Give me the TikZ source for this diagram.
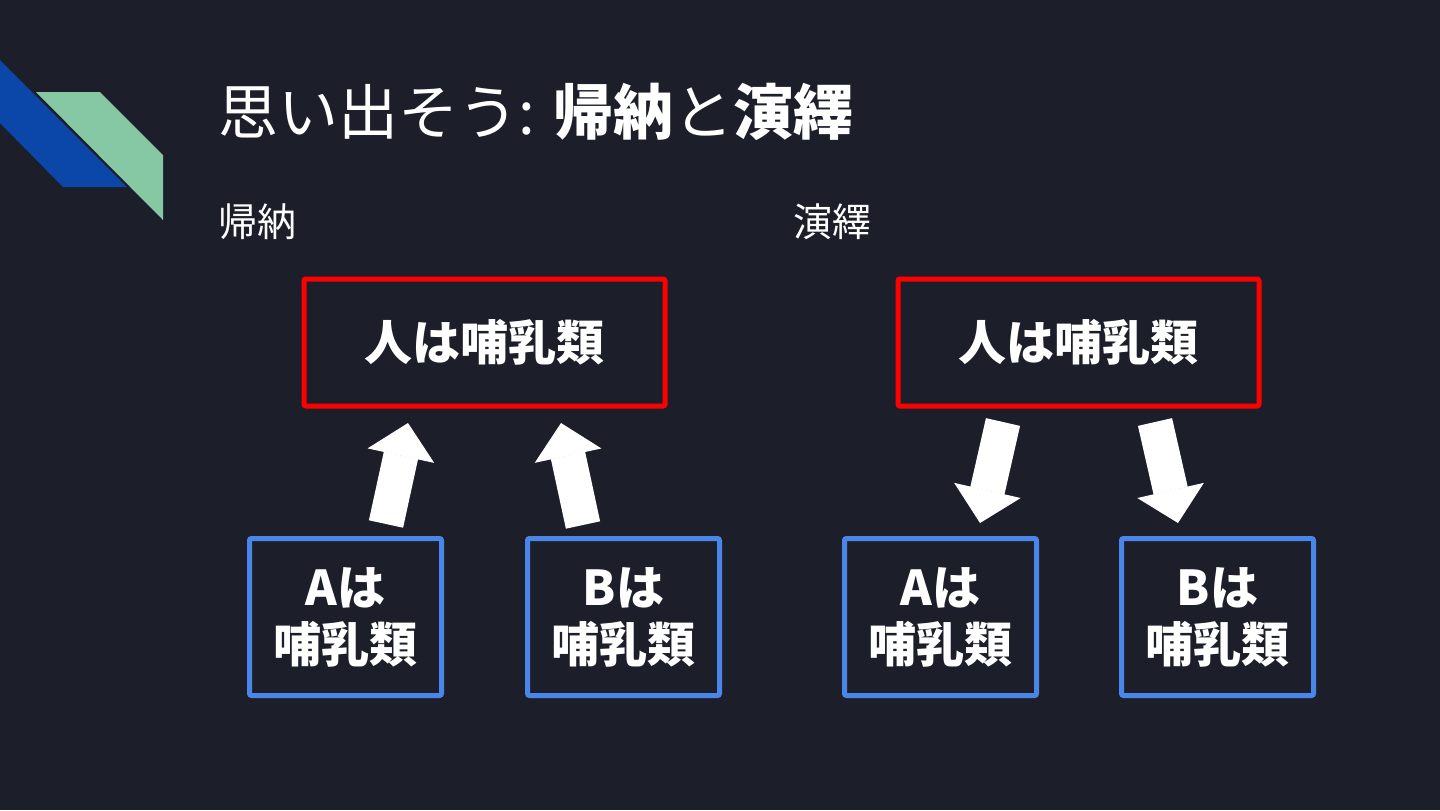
\documentclass[tikz,border=0pt]{standalone}
\usepackage{fontspec}
\setmainfont{Noto Sans CJK JP}
\usepackage{xcolor}
\usepackage{tikz}
\usetikzlibrary{arrows.meta}
\definecolor{slidebg}{HTML}{1C1F2A}
\definecolor{decoblue}{HTML}{0A47A9}
\definecolor{decogreen}{HTML}{86C7A4}
\definecolor{rulered}{HTML}{FF0000}
\definecolor{caseblue}{HTML}{4A86E8}

\begin{document}
\begin{tikzpicture}[x=0.5pt,y=-0.5pt,every node/.style={text=white,inner sep=0pt},
  rulebox/.style={draw=rulered,line width=2.5pt,rounded corners=1pt,minimum width=180.5pt,minimum height=63.5pt,font=\fontsize{24pt}{29pt}\selectfont\bfseries},
  casebox/.style={draw=caseblue,line width=2.5pt,rounded corners=1pt,minimum width=96pt,minimum height=78.5pt,align=center,font=\fontsize{24pt}{28.5pt}\selectfont\bfseries},
  fatarrow/.style={white,line width=17.5pt,-{Triangle[length=16.7pt,width=34pt,line width=0.6pt]}}]
  \useasboundingbox (0,0) rectangle (1440,810);
  \fill[slidebg] (0,0) rectangle (1440,810);
  % corner decoration
  \fill[decoblue] (0,60) -- (127,187) -- (63,187) -- (0,123) -- cycle;
  \fill[decogreen] (36,92) -- (100,92) -- (163,155) -- (163,220) -- cycle;
  % title and headings
  \node[anchor=west,font=\fontsize{30pt}{36pt}\selectfont] (title) at (218,112) {思い出そう: \textbf{帰納}と\textbf{演繹}};
  \node[anchor=west,font=\fontsize{19.5pt}{23pt}\selectfont] (indhead) at (218,222) {帰納};
  \node[anchor=west,font=\fontsize{19.5pt}{23pt}\selectfont] (dedhead) at (793,222) {演繹};
  % boxes
  \node[rulebox] (indrule) at (484.5,342.5) {人は哺乳類};
  \node[rulebox] (dedrule) at (1078.5,342.5) {人は哺乳類};
  \foreach \n/\x/\t in {indA/345.5/A,indB/623.5/B,dedA/940.5/A,dedB/1217.5/B}
    \node[casebox] (\n) at (\x,617) {\t は\\哺乳類};
  % arrows
  \coordinate (indAs) at (386,524);  \coordinate (indAe) at (408,423);
  \coordinate (indBs) at (583,525);  \coordinate (indBe) at (561,423);
  \coordinate (dedAs) at (1003,422); \coordinate (dedAe) at (980,523);
  \coordinate (dedBs) at (1155,422); \coordinate (dedBe) at (1178,523);
  \foreach \a in {indA,indB,dedA,dedB}
    \draw[fatarrow] (\a s) -- (\a e);
\end{tikzpicture}
\end{document}
